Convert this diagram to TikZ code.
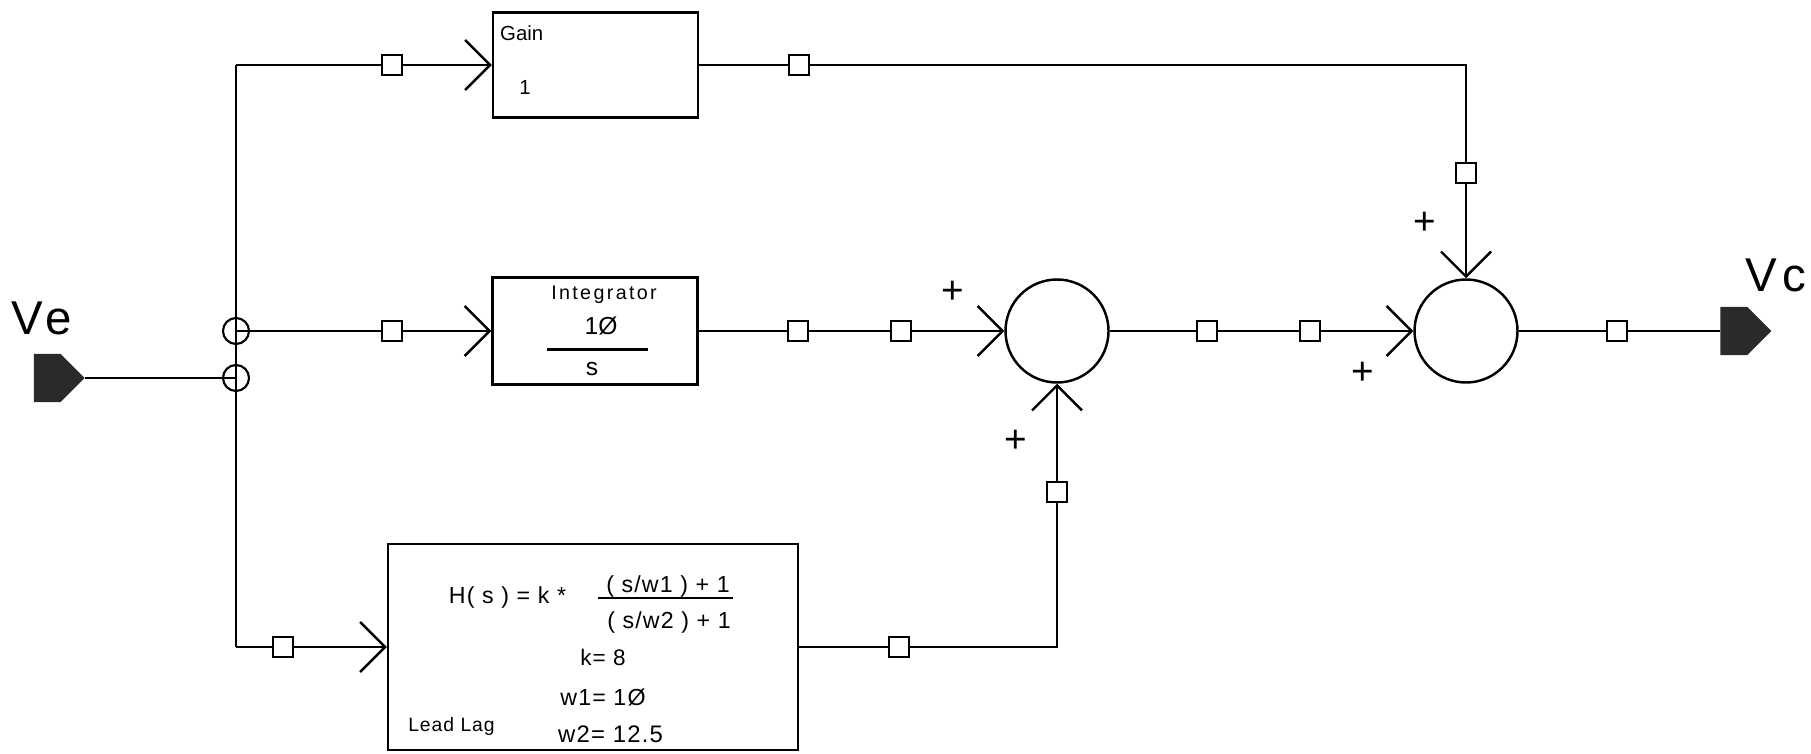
\documentclass[tikz,border=0pt]{standalone}
\usepackage{fontspec}
\setmainfont{Liberation Sans}
\usepackage{xcolor}
\usepackage{tikz}
\usetikzlibrary{shapes.symbols, arrows.meta, positioning}
\definecolor{termdark}{HTML}{2A2A2A}
\newfontfamily\portfont[LetterSpace=10]{Liberation Sans}
\newfontfamily\spacedfont[LetterSpace=12]{Liberation Sans}
\newfontfamily\blockfont[LetterSpace=5]{Liberation Sans}

\begin{document}
\begin{tikzpicture}[
    line width=0.7pt,
    blockbox/.style={draw, minimum width=2.05cm, minimum height=1.05cm, inner sep=0pt},
    sumnode/.style={draw, circle, minimum size=1.03cm, inner sep=0pt},
    marker/.style={draw, fill=white, minimum size=0.2cm, inner sep=0pt, line width=0.6pt},
    junction/.style={draw, circle, minimum size=0.26cm, inner sep=0pt, line width=0.6pt},
    terminal/.style={signal, signal to=east, fill=termdark, draw=termdark, minimum width=0.48cm, minimum height=0.46cm, inner sep=0pt},
    chev/.style={-{Straight Barb[length=2.5mm, width=5mm, line width=0.7pt]}},
    plus/.style={font=\fontsize{11}{11}\selectfont, inner sep=0pt}
]
    \useasboundingbox (0,0) rectangle (18.11,7.53);

    % ports
    \node[terminal] (ve) at (0.475,3.75) {};
    \node[font=\portfont\fontsize{13.5}{14}\selectfont] (velabel) at (0.42,4.35) {Ve};
    \node[terminal] (vc) at (17.34,4.22) {};
    \node[font=\portfont\fontsize{13.5}{14}\selectfont] (vclabel) at (17.76,4.78) {Vc};

    % blocks
    \node[blockbox] (gain) at (5.955,6.88) {};
    \node[anchor=west, inner sep=0pt, font=\fontsize{5.8}{6}\selectfont] (gaintitle) at (4.99,7.20) {Gain};
    \node[font=\fontsize{5.8}{6}\selectfont] (gainval) at (5.25,6.66) {1};

    \node[blockbox, minimum height=1.07cm] (int) at (5.95,4.22) {};
    \node[font=\spacedfont\fontsize{5.6}{6}\selectfont] (inttitle) at (6.04,4.585) {Integrator};
    \node[font=\fontsize{7}{8}\selectfont] (intnum) at (6.01,4.27) {1Ø};
    \draw (5.47,4.035) -- (6.48,4.035);
    \node[font=\fontsize{7}{8}\selectfont] (intden) at (5.92,3.84) {s};

    \node[draw, minimum width=4.10cm, minimum height=2.06cm, inner sep=0pt] (ll) at (5.93,1.06) {};
    \node[font=\blockfont\fontsize{6.6}{7}\selectfont] (llh) at (5.075,1.56) {H( s ) = k *};
    \node[font=\blockfont\fontsize{6.6}{7}\selectfont] (llnum) at (6.68,1.67) {( s/w1 ) + 1};
    \draw (5.98,1.55) -- (7.33,1.55);
    \node[font=\blockfont\fontsize{6.6}{7}\selectfont] (llden) at (6.69,1.31) {( s/w2 ) + 1};
    \node[font=\blockfont\fontsize{6.4}{7}\selectfont] (llk) at (6.03,0.96) {k= 8};
    \node[font=\blockfont\fontsize{6.6}{7}\selectfont] (llw1) at (6.03,0.56) {w1= 1Ø};
    \node[font=\blockfont\fontsize{5.5}{6}\selectfont] (lltitle) at (4.515,0.27) {Lead Lag};
    \node[font=\blockfont\fontsize{6.8}{7}\selectfont] (llw2) at (6.105,0.19) {w2= 12.5};

    % summing junctions
    \node[sumnode] (sum1) at (10.57,4.22) {};
    \node[sumnode] (sum2) at (14.66,4.22) {};
    \node[plus] (p1) at (9.53,4.61) {+};
    \node[plus] (p2) at (10.16,3.12) {+};
    \node[plus] (p3) at (14.25,5.30) {+};
    \node[plus] (p4) at (13.63,3.80) {+};

    % branch points
    \node[junction] (j1) at (2.36,4.22) {};
    \node[junction] (j2) at (2.36,3.75) {};
    \coordinate (bustop) at (2.36,6.88);
    \coordinate (busbot) at (2.36,1.06);
    \coordinate (gcorner) at (gain.east -| sum2.north);
    \coordinate (lcorner) at (ll.east -| sum1.south);

    % line markers
    \node[marker] (mg1) at (3.92,6.88) {};
    \node[marker] (mg2) at (7.99,6.88) {};
    \node[marker] (mg3) at (14.66,5.80) {};
    \node[marker] (mi1) at (3.92,4.22) {};
    \node[marker] (mi2) at (7.98,4.22) {};
    \node[marker] (mi3) at (9.01,4.22) {};
    \node[marker] (ml1) at (2.83,1.06) {};
    \node[marker] (ml2) at (8.99,1.06) {};
    \node[marker] (ml3) at (10.57,2.61) {};
    \node[marker] (ms1) at (12.07,4.22) {};
    \node[marker] (ms2) at (13.10,4.22) {};
    \node[marker] (mo) at (16.17,4.22) {};

    % connections
    \draw (ve.east) -- (j2.center);
    \draw (bustop) -- (busbot);
    \draw[chev] (bustop) -- (mg1) -- (gain.west);
    \draw[chev] (j1.center) -- (mi1) -- (int.west);
    \draw[chev] (busbot) -- (ml1) -- (ll.west);
    \draw[chev] (gain.east) -- (mg2) -- (gcorner) -- (mg3) -- (sum2.north);
    \draw[chev] (int.east) -- (mi2) -- (mi3) -- (sum1.west);
    \draw[chev] (ll.east) -- (ml2) -- (lcorner) -- (ml3) -- (sum1.south);
    \draw[chev] (sum1.east) -- (ms1) -- (ms2) -- (sum2.west);
    \draw (sum2.east) -- (mo) -- (vc.west);
\end{tikzpicture}
\end{document}
